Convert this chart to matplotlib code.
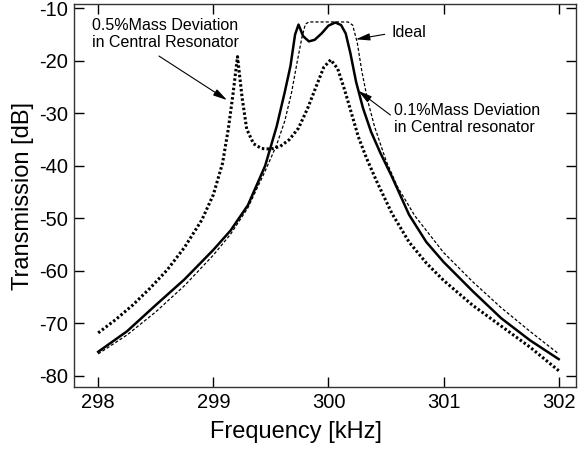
import matplotlib
matplotlib.use("Agg")
import matplotlib.pyplot as plt

plt.rcParams['font.family'] = ['Liberation Sans', 'DejaVu Sans']
plt.rcParams['axes.unicode_minus'] = False

# ---- data ----
f_ideal = [298.0, 298.25, 298.5, 298.75, 299.0, 299.15, 299.3, 299.45, 299.55, 299.62,
           299.68, 299.73, 299.77, 299.80, 299.83, 300.17, 300.21, 300.25, 300.29, 300.34,
           300.40, 300.50, 300.60, 300.75, 301.0, 301.25, 301.5, 301.75, 302.0]
db_ideal = [-75.8, -72.2, -67.8, -62.8, -57.0, -53.0, -48.0, -41.0, -36.0, -31.5,
            -26.0, -20.0, -15.5, -13.0, -12.6, -12.6, -13.2, -16.5, -22.0, -27.5,
            -32.5, -39.0, -44.0, -49.5, -56.5, -62.0, -67.0, -71.5, -75.8]

f_01 = [298.0, 298.25, 298.5, 298.75, 299.0, 299.15, 299.3, 299.45, 299.55, 299.62,
        299.67, 299.71, 299.74, 299.78, 299.83, 299.88, 299.94, 300.0, 300.06, 300.11,
        300.15, 300.19, 300.24, 300.3, 300.37, 300.45, 300.55, 300.7, 300.85, 301.0,
        301.25, 301.5, 301.75, 302.0]
db_01 = [-75.4, -71.5, -66.5, -61.6, -56.0, -52.3, -47.5, -40.0, -32.5, -26.0,
         -21.0, -15.0, -13.1, -15.3, -16.3, -16.0, -14.8, -13.3, -12.7, -13.2,
         -14.8, -18.5, -24.0, -29.0, -33.5, -37.5, -42.0, -49.3, -54.5, -58.3,
         -63.8, -69.0, -73.2, -76.8]

f_05 = [298.0, 298.15, 298.3, 298.45, 298.6, 298.75, 298.9, 299.0, 299.08, 299.13,
        299.17, 299.21, 299.25, 299.29, 299.35, 299.42, 299.5, 299.58, 299.66, 299.74,
        299.82, 299.9, 299.96, 300.02, 300.08, 300.14, 300.2, 300.26, 300.33, 300.42,
        300.55, 300.7, 300.85, 301.0, 301.25, 301.5, 301.75, 302.0]
db_05 = [-71.8, -69.3, -66.5, -63.3, -59.8, -55.5, -50.3, -45.5, -39.5, -33.0,
         -26.5, -19.2, -27.0, -33.0, -35.8, -36.7, -36.8, -36.3, -35.0, -32.8,
         -29.0, -24.5, -21.2, -19.8, -21.5, -25.5, -30.0, -34.5, -38.5, -43.0,
         -49.0, -54.5, -58.5, -61.8, -66.5, -70.5, -74.5, -79.0]

x_ticks = [298, 299, 300, 301, 302]
y_ticks = [-10, -20, -30, -40, -50, -60, -70, -80]

fig = plt.figure(figsize=(5.81, 4.51), dpi=100)
ax = fig.add_axes([74/581, 1-387/451, (576-74)/581, (387-4)/451])

ax.plot(f_ideal, db_ideal, color='black', lw=0.9, linestyle=(0, (2.5, 1.6)))
ax.plot(f_01, db_01, color='black', lw=1.8, linestyle='-')
ax.plot(f_05, db_05, color='black', lw=2.2, linestyle=(0, (0.8, 0.75)),
        dash_capstyle='butt')

ax.set_xlim(297.79, 302.15)
ax.set_ylim(-82.1, -9.18)
ax.set_xticks(x_ticks)
ax.set_xticklabels([str(v) for v in x_ticks])
ax.set_yticks(y_ticks)
ax.set_yticklabels([str(v) for v in y_ticks])
ax.tick_params(direction='in', top=True, right=True, length=7, width=1,
               labelsize=14.5, pad=4)
for s in ax.spines.values():
    s.set_linewidth(1.0)
    s.set_color('#333333')

ax.set_xlabel('Frequency [kHz]', fontsize=17, labelpad=7, x=0.442)
ax.set_ylabel('Transmission [dB]', fontsize=17, labelpad=4)

aprops = dict(arrowstyle='-|>,head_length=0.7,head_width=0.18', color='black',
              lw=0.8, mutation_scale=12, shrinkA=0, shrinkB=0)

ax.text(297.943, -14.9, '0.5%Mass Deviation\nin Central Resonator', fontsize=11.5,
        ha='left', va='center', linespacing=1.1)
ax.annotate('', xy=(299.119, -27.47), xytext=(298.528, -19.09), arrowprops=aprops)

ax.text(300.547, -14.57, 'Ideal', fontsize=11.5, ha='left', va='center')
ax.annotate('', xy=(300.238, -15.90), xytext=(300.489, -14.95), arrowprops=aprops)

ax.text(300.569, -31.06, '0.1%Mass Deviation\nin Central resonator', fontsize=11.5,
        ha='left', va='center', linespacing=1.1)
ax.annotate('', xy=(300.258, -25.70), xytext=(300.538, -30.32), arrowprops=aprops)

fig.savefig('out.png', dpi=100)
